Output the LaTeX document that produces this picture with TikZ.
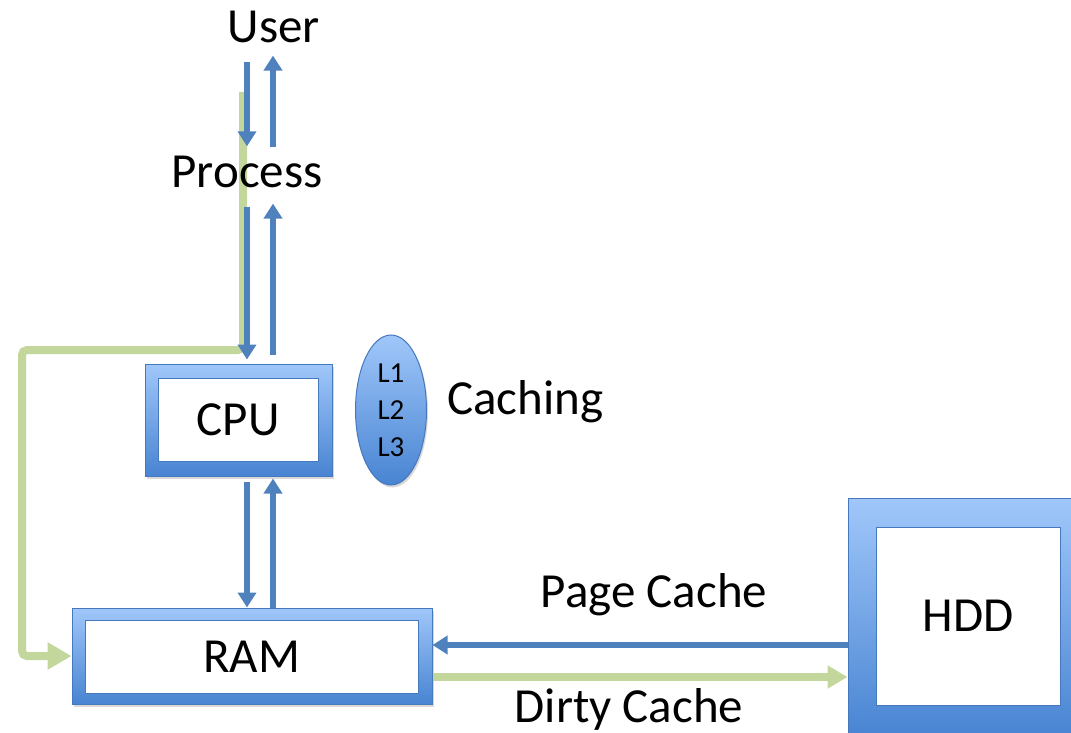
\documentclass[tikz,border=0pt]{standalone}
\usepackage{fontspec}
\setmainfont{Carlito}
\usetikzlibrary{arrows.meta,shadows,shapes.geometric}
\definecolor{flowblue}{RGB}{79,129,189}
\definecolor{flowgreen}{RGB}{195,214,155}
\definecolor{boxtop}{RGB}{160,199,250}
\definecolor{boxbot}{RGB}{72,132,210}
\definecolor{boxedge}{RGB}{70,120,190}
\begin{document}
\begin{tikzpicture}[x=1pt,y=-1pt,
  big/.style={font=\fontsize{49}{59}\selectfont},
  lbl/.style={big, inner sep=0pt, anchor=base},
  frame/.style={draw=boxedge, line width=1pt, top color=boxtop, bottom color=boxbot,
    drop shadow={opacity=0.3, shadow xshift=1.5pt, shadow yshift=-2.5pt}, inner sep=0pt},
  pane/.style={draw=boxedge, line width=0.8pt, fill=white, inner sep=0pt, big},
  flow/.style={draw=flowblue, line width=6pt, -{Triangle[length=15pt,width=18pt]}},
  back/.style={draw=flowgreen, line width=8pt, -{Triangle[length=24pt,width=26pt]}}]
\useasboundingbox (0,0) rectangle (1071,733);

% hardware blocks: shaded frame with a white pane inside
\node[frame, minimum width=187pt, minimum height=112pt] (cpu) at (238.5,420) {};
\node[pane, minimum width=160pt, minimum height=83pt] (cpuin) at (238,419.5) {CPU};
\node[frame, minimum width=360pt, minimum height=96pt] (ram) at (252,656) {};
\node[pane, minimum width=333pt, minimum height=73pt] (ramin) at (251.5,656.5) {RAM};
\node[frame, minimum width=225pt, minimum height=240pt] (hdd) at (960.5,618) {};
\node[pane, minimum width=184pt, minimum height=178pt] (hddin) at (968,616) {HDD};

% cache levels
\node[ellipse, draw=boxedge, line width=1pt, top color=boxtop, bottom color=boxbot,
  drop shadow={opacity=0.3, shadow xshift=1.5pt, shadow yshift=-2.5pt},
  minimum width=71pt, minimum height=150pt, inner sep=0pt, align=center,
  font=\fontsize{29}{37}\selectfont] (levels) at (391,410) {L1\\L2\\L3};

% write-back path (drawn beneath labels and data arrows)
\coordinate (gtop) at (243,92);
\coordinate (gleft) at (22,350);
\draw[back, rounded corners=5pt] (gtop) |- (gleft) |- (ram.west);

% labels
\node[lbl] (user) at (274,43) {User};
\node[lbl] (process) at (247,187) {Process};
\node[lbl, anchor=base west] (caching) at (447,414) {Caching};
\node[lbl] (pagec) at (654,607) {Page Cache};
\node[lbl] (dirtyc) at (629,722) {Dirty Cache};

% user <-> process
\draw[flow, shorten <=18pt, shorten >=9pt] ([xshift=-27pt]user.south) -- (process.north);
\draw[flow, shorten <=8pt, shorten >=12pt] ([xshift=26pt]process.north) -- ([xshift=-1pt]user.south);
% process <-> cpu
\draw[flow, shorten <=19pt, shorten >=4pt] (process.south) -- ([xshift=8.5pt]cpu.north);
\draw[flow, shorten <=9pt, shorten >=16pt] ([xshift=34.5pt]cpu.north) -- ([xshift=26pt]process.south);
% cpu <-> ram
\draw[flow, shorten <=5pt] ([xshift=8.5pt]cpu.south) -- ([xshift=-5pt]ram.north);
\draw[flow, shorten >=2pt] ([xshift=21pt]ram.north) -- ([xshift=34.5pt]cpu.south);
% ram <-> disk
\coordinate (pc) at ([yshift=11pt]ram.east);
\coordinate (dc) at ([yshift=-21pt]ram.east);
\draw[flow] (pc -| hdd.west) -- (pc);
\draw[back, -{Triangle[length=20pt,width=22pt]}] (dc) -- (dc -| hdd.west);
\end{tikzpicture}
\end{document}
